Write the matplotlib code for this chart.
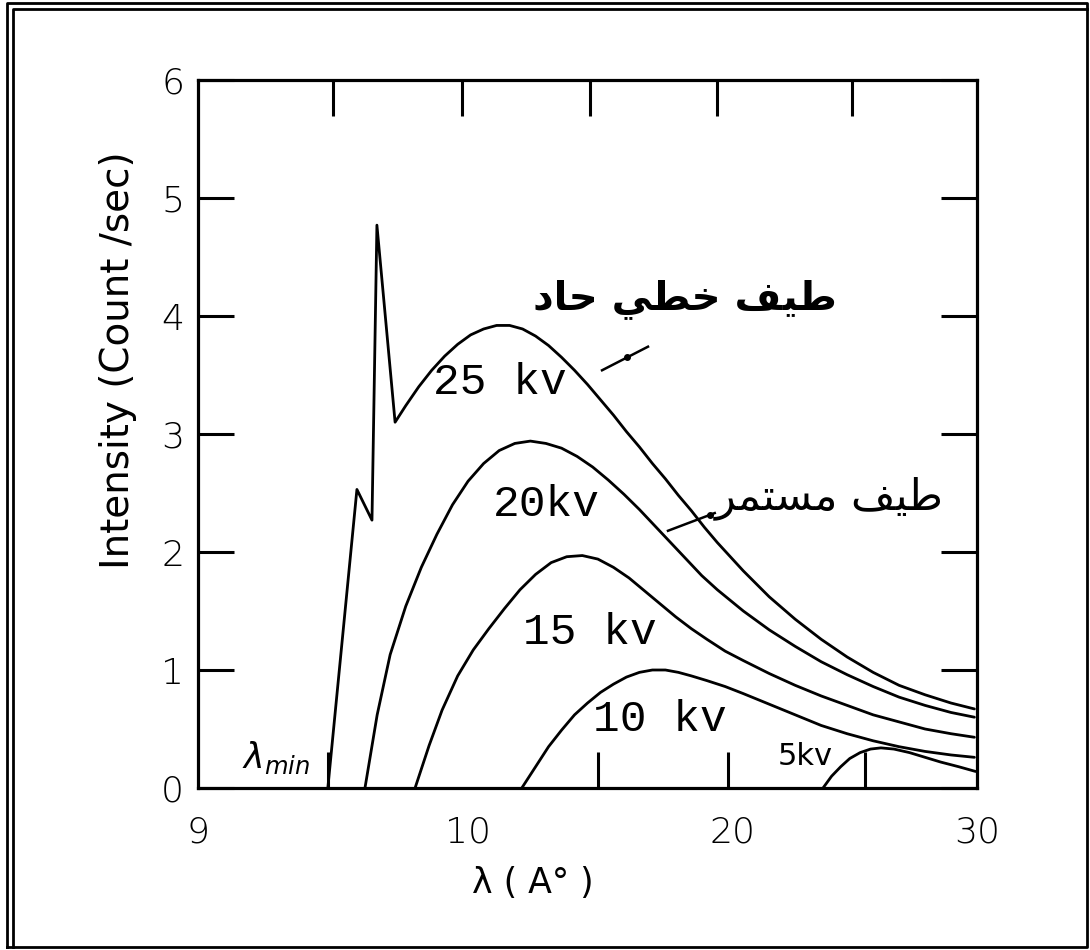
import matplotlib
matplotlib.use("Agg")
import matplotlib.pyplot as plt
from matplotlib.lines import Line2D

# ---------------- data ----------------
kv25_x = [5.0, 6.12, 6.70, 6.89, 7.59, 8.0, 8.5, 9.0, 9.5, 10.0, 10.5, 11.0, 11.5, 12.0, 12.5,
          13.0, 13.5, 14.0, 14.5, 15.0, 15.5, 16.0, 16.5, 17.0, 17.5, 18.0, 18.5, 19.0, 19.5,
          20.0, 21.0, 22.0, 23.0, 24.0, 25.0, 26.0, 27.0, 28.0, 29.0, 29.9]
kv25_y = [0.0, 2.53, 2.27, 4.77, 3.10, 3.24, 3.40, 3.54, 3.66, 3.76, 3.84, 3.89, 3.92, 3.92, 3.89,
          3.83, 3.75, 3.65, 3.54, 3.42, 3.29, 3.16, 3.02, 2.89, 2.75, 2.62, 2.48, 2.35, 2.21,
          2.08, 1.84, 1.62, 1.43, 1.26, 1.11, 0.98, 0.87, 0.79, 0.72, 0.67]

kv20_x = [6.43, 6.9, 7.4, 8.0, 8.6, 9.2, 9.8, 10.4, 11.0, 11.6, 12.2, 12.8, 13.4, 14.0, 14.6,
          15.2, 15.8, 16.4, 17.0, 17.6, 18.2, 18.8, 19.4, 20.0, 21.0, 22.0, 23.0, 24.0, 25.0,
          26.0, 27.0, 28.0, 29.0, 29.9]
kv20_y = [0.0, 0.62, 1.13, 1.54, 1.87, 2.15, 2.40, 2.60, 2.75, 2.86, 2.92, 2.94, 2.92, 2.88, 2.81,
          2.72, 2.61, 2.49, 2.36, 2.22, 2.08, 1.94, 1.80, 1.68, 1.50, 1.34, 1.20, 1.07, 0.96,
          0.86, 0.77, 0.70, 0.64, 0.60]

kv15_x = [8.36, 8.9, 9.4, 10.0, 10.6, 11.2, 11.8, 12.4, 13.0, 13.6, 14.2, 14.8, 15.4, 16.0,
          16.6, 17.2, 17.8, 18.4, 19.0, 19.6, 20.3, 21.0, 22.0, 23.0, 24.0, 25.0, 26.0, 27.0,
          28.0, 29.0, 29.9]
kv15_y = [0.0, 0.36, 0.66, 0.95, 1.17, 1.35, 1.52, 1.68, 1.81, 1.91, 1.96, 1.97, 1.94, 1.87,
          1.78, 1.67, 1.56, 1.45, 1.35, 1.26, 1.16, 1.08, 0.97, 0.87, 0.78, 0.70, 0.62, 0.56,
          0.50, 0.46, 0.43]

kv10_x = [12.47, 13.0, 13.5, 14.0, 14.5, 15.0, 15.5, 16.0, 16.5, 17.0, 17.5, 18.0, 18.5, 19.0,
          19.6, 20.3, 21.0, 22.0, 23.0, 24.0, 25.0, 26.0, 27.0, 28.0, 29.0, 29.9]
kv10_y = [0.0, 0.18, 0.35, 0.49, 0.62, 0.72, 0.81, 0.88, 0.94, 0.98, 1.00, 1.00, 0.98, 0.95,
          0.91, 0.86, 0.80, 0.71, 0.62, 0.53, 0.46, 0.40, 0.35, 0.31, 0.28, 0.26]

kv5_x = [24.07, 24.4, 24.75, 25.1, 25.5, 25.9, 26.3, 26.8, 27.4, 28.0, 28.6, 29.3, 29.95]
kv5_y = [0.0, 0.10, 0.18, 0.25, 0.30, 0.33, 0.34, 0.33, 0.30, 0.26, 0.22, 0.18, 0.14]

series_x = [kv25_x, kv20_x, kv15_x, kv10_x, kv5_x]
series_y = [kv25_y, kv20_y, kv15_y, kv10_y, kv5_y]

curve_labels = ["25 kv", "20kv", "15 kv", "10 kv", "5kv"]
y_ticks = [0, 1, 2, 3, 4, 5, 6]
y_ticklabels = ["0", "1", "2", "3", "4", "5", "6"]
x_label_pos = [0, 10.4, 20.6, 30]
x_ticklabels = ["9", "10", "20", "30"]
x_tickmarks_top = [5.2, 10.15, 15.1, 20.0, 25.2]
x_tickmarks_bottom = [5.0, 10.4, 15.4, 20.4, 25.7]

title_line = "طيف خطي حاد"      # sharp line spectrum
title_cont = "طيف مستمر"        # continuous spectrum
y_title = "Intensity (Count /sec)"
x_title = "λ ( A° )"


# ---------------- simple Arabic shaping (matplotlib has none) ----------------
FORMS = {  # isolated, final, initial, medial
    'ط': (0xFEC1, 0xFEC2, 0xFEC3, 0xFEC4),
    'ي': (0xFEF1, 0xFEF2, 0xFEF3, 0xFEF4),
    'ف': (0xFED1, 0xFED2, 0xFED3, 0xFED4),
    'خ': (0xFEA5, 0xFEA6, 0xFEA7, 0xFEA8),
    'ح': (0xFEA1, 0xFEA2, 0xFEA3, 0xFEA4),
    'ا': (0xFE8D, 0xFE8E, None, None),
    'د': (0xFEA9, 0xFEAA, None, None),
    'م': (0xFEE1, 0xFEE2, 0xFEE3, 0xFEE4),
    'س': (0xFEB1, 0xFEB2, 0xFEB3, 0xFEB4),
    'ت': (0xFE95, 0xFE96, 0xFE97, 0xFE98),
    'ر': (0xFEAD, 0xFEAE, None, None),
}


def shape_arabic(text):
    out = []
    n = len(text)
    for i, ch in enumerate(text):
        if ch not in FORMS:
            out.append(ch)
            continue
        f = FORMS[ch]
        prev = text[i - 1] if i > 0 else None
        nxt = text[i + 1] if i < n - 1 else None
        pj = prev in FORMS and FORMS[prev][2] is not None
        nj = nxt in FORMS and f[2] is not None
        if pj and nj:
            cp = f[3]
        elif pj:
            cp = f[1]
        elif nj:
            cp = f[2]
        else:
            cp = f[0]
        out.append(chr(cp))
    return "".join(reversed(out))


# ---------------- figure ----------------
W, H = 1090, 950
fig = plt.figure(figsize=(W / 100, H / 100), dpi=100)
fig.patch.set_facecolor("white")


def fx(px):
    return px / W


def fy(py):
    return 1 - py / H


ax = fig.add_axes([fx(198), fy(788), fx(977) - fx(198), fy(80) - fy(788)])
ax.set_xlim(0, 30)
ax.set_ylim(0, 6)

for s in ax.spines.values():
    s.set_linewidth(2.3)
    s.set_color("black")

for xs, ys in zip(series_x, series_y):
    ax.plot(xs, ys, color="black", lw=2.0, solid_joinstyle="round", solid_capstyle="round")

# y axis
ax.set_yticks(y_ticks)
ax.set_yticklabels(y_ticklabels, fontsize=26, family="DejaVu Sans", fontweight="light")
ax.tick_params(axis="y", direction="in", length=26, width=2.2, right=True, labelright=False, pad=10)

# x axis labels (no marks) + separate marks
ax.set_xticks(x_label_pos)
ax.set_xticklabels(x_ticklabels, fontsize=26, family="DejaVu Sans", fontweight="light")
ax.tick_params(axis="x", which="major", length=0, pad=20)
ax.set_xticks(x_tickmarks_bottom, minor=True)
ax.tick_params(axis="x", which="minor", direction="in", length=26, width=2.2, top=False)

axt = ax.twiny()
axt.set_xlim(0, 30)
axt.set_xticks(x_tickmarks_top)
axt.tick_params(axis="x", direction="in", length=26, width=2.2, labeltop=False)
for s in axt.spines.values():
    s.set_visible(False)

# axis titles
fig.text(fx(118), fy(360), y_title, rotation=90, ha="center", va="center",
         fontsize=28, family="DejaVu Sans")
fig.text(fx(533), fy(883), x_title, ha="center", va="center", fontsize=25,
         family="DejaVu Sans")

# curve labels (Courier-like)
lab_pos = [(11.63, 3.44), (13.4, 2.40), (15.1, 1.32), (17.8, 0.58), (23.4, 0.27)]
for (lx, ly), t in zip(lab_pos, curve_labels):
    if t == "5kv":
        ax.text(lx, ly, t, ha="center", va="center", fontsize=22, family="DejaVu Sans")
    else:
        ax.text(lx, ly, t, ha="center", va="center", fontsize=32, family="Liberation Mono")

ax.text(3.0, 0.26, r"$\lambda_{min}$", ha="center", va="center", fontsize=25)

# Arabic annotations
ax.text(18.75, 4.14, shape_arabic(title_line), ha="center", va="center", fontsize=29,
        family="DejaVu Sans", fontweight="bold")
ax.text(24.3, 2.46, shape_arabic(title_cont), ha="center", va="center", fontsize=31,
        family="DejaVu Sans")

# pointer strokes
ax.plot([15.56, 17.33], [3.54, 3.74], color="black", lw=1.8)
ax.plot([16.52], [3.65], marker="o", ms=4, color="black")
ax.plot([18.1, 19.9], [2.18, 2.33], color="black", lw=1.8)
ax.plot([19.7], [2.31], marker="o", ms=4, color="black")

# double frame around the whole picture
frame = dict(color="black", transform=fig.transFigure, lw=2.0)
fig.add_artist(Line2D([fx(7), fx(7), fx(1087), fx(1087), fx(7)],
                      [fy(947), fy(3), fy(3), fy(947), fy(947)], **frame))
fig.add_artist(Line2D([fx(12.5), fx(12.5), fx(1087)],
                      [fy(947), fy(8.5), fy(8.5)], **frame))

fig.savefig("out.png", dpi=100, facecolor="white")
